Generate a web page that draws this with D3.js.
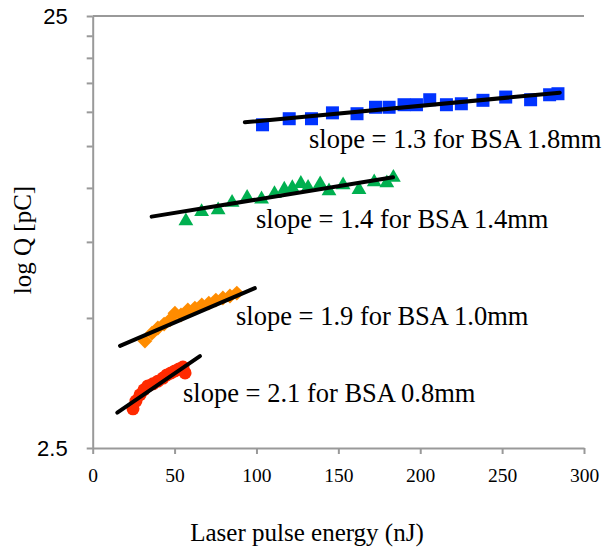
<!DOCTYPE html>
<html>
<head>
<meta charset="utf-8">
<script src="https://cdn.jsdelivr.net/npm/d3@7"></script>
<style>
  html, body { margin: 0; padding: 0; background: #fff; }
  svg { display: block; }
</style>
</head>
<body>
<svg id="chart" width="604" height="548"></svg>
<script>
// ---- data ----
const xTicks = [0, 50, 100, 150, 200, 250, 300];
const yTicks = [2.5, 5, 7.5, 10, 12.5, 15, 17.5, 20, 22.5, 25];
const yTickLabels = {"2.5": "2.5", "25": "25"};

const blueX = [103.7, 120.0, 133.6, 146.4, 161.4, 172.7, 181.0, 190.1, 197.7, 205.8, 216.0, 225.1, 238.3, 252.2, 267.4, 279.0, 284.1];
const blueY = [14.0, 14.46, 14.46, 14.92, 14.85, 15.37, 15.37, 15.58, 15.58, 16.0, 15.58, 15.66, 15.95, 16.23, 16.0, 16.43, 16.52];

const greenX = [56.9, 66.5, 76.6, 85.1, 94.3, 103.1, 111.0, 117.0, 121.9, 127.1, 131.5, 138.9, 144.3, 152.9, 162.6, 171.9, 179.6, 183.6];
const greenY = [8.38, 8.81, 8.89, 9.25, 9.50, 9.42, 9.69, 9.92, 10.0, 10.23, 10.02, 10.21, 9.84, 10.16, 9.91, 10.32, 10.26, 10.57];

const orangeX = [31.9, 36.2, 39.8, 43.6, 47.2, 50.2, 53.9, 58.1, 62.4, 66.6, 70.9, 75.2, 79.5, 83.8, 88.0];
const orangeY = [4.42, 4.61, 4.74, 4.84, 4.95, 5.13, 5.08, 5.22, 5.27, 5.36, 5.41, 5.50, 5.56, 5.62, 5.71];

const redX = [24.6, 26.4, 28.9, 31.3, 33.7, 36.8, 39.8, 42.9, 45.3, 47.8, 50.2, 52.7, 55.1, 56.4];
const redY = [3.08, 3.21, 3.32, 3.41, 3.48, 3.52, 3.57, 3.63, 3.69, 3.73, 3.77, 3.81, 3.85, 3.73];

const fitBlueX = [92.9, 285.2],  fitBlueY = [14.19, 16.61];
const fitGreenX = [36.0, 183.4], fitGreenY = [8.58, 10.58];
const fitOrangeX = [16.7, 99.0], fitOrangeY = [4.31, 5.86];
const fitRedX = [15.0, 65.5],    fitRedY = [3.02, 4.08];

const labels = ["slope = 1.3 for BSA 1.8mm", "slope = 1.4 for BSA 1.4mm", "slope = 1.9 for BSA 1.0mm", "slope = 2.1 for BSA 0.8mm"];
const xTitle = "Laser pulse energy (nJ)";
const yTitle = "log Q [pC]";

// ---- layout ----
const svg = d3.select("#chart");
const pLeft = 92.7, pRight = 584, pTop = 16, pBottom = 448;
const x = d3.scaleLinear().domain([0, 300]).range([pLeft, pRight]);
const y = d3.scaleLog().domain([2.5, 25]).range([pBottom, pTop]);
const axisColor = "#999999";

// top border
svg.append("line").attr("x1", pLeft).attr("x2", pRight).attr("y1", pTop).attr("y2", pTop)
  .attr("stroke", axisColor).attr("stroke-width", 2);

// x axis
const gx = svg.append("g").attr("transform", `translate(0,${pBottom})`)
  .call(d3.axisBottom(x).tickValues(xTicks).tickSize(6).tickPadding(14).tickSizeOuter(0));
gx.select(".domain").attr("stroke", axisColor).attr("stroke-width", 2);
gx.selectAll(".tick line").attr("stroke", axisColor).attr("stroke-width", 2);
gx.selectAll(".tick text").attr("font-family", "Liberation Serif, Times New Roman, serif")
  .attr("font-size", 19.5).attr("fill", "#000");

// y axis
const gy = svg.append("g").attr("transform", `translate(${pLeft},0)`)
  .call(d3.axisLeft(y).tickValues(yTicks).tickSize(6).tickPadding(19).tickSizeOuter(0)
    .tickFormat(d => yTickLabels[String(d)] || ""));
gy.select(".domain").attr("stroke", axisColor).attr("stroke-width", 2);
gy.selectAll(".tick line").attr("stroke", axisColor).attr("stroke-width", 2);
gy.selectAll(".tick text").attr("font-family", "Liberation Sans, Arial, sans-serif")
  .attr("font-size", 22).attr("fill", "#000");

// titles
svg.append("text").attr("x", 307).attr("y", 541).attr("text-anchor", "middle")
  .attr("font-family", "Liberation Serif, Times New Roman, serif").attr("font-size", 25)
  .text(xTitle);
svg.append("text").attr("transform", "translate(31,240) rotate(-90)").attr("text-anchor", "middle")
  .attr("font-family", "Liberation Serif, Times New Roman, serif").attr("font-size", 25)
  .text(yTitle);

// markers
const zip = (xs, ys) => xs.map((v, i) => [v, ys[i]]);

svg.append("g").selectAll("rect").data(zip(blueX, blueY)).join("rect")
  .attr("x", d => x(d[0]) - 6.5).attr("y", d => y(d[1]) - 6.5)
  .attr("width", 13).attr("height", 13).attr("fill", "#0033ff");

const tri = d3.symbol().type(d3.symbolTriangle).size(95);
svg.append("g").selectAll("path").data(zip(greenX, greenY)).join("path")
  .attr("d", tri).attr("transform", d => `translate(${x(d[0])},${y(d[1])})`)
  .attr("fill", "#00b050");

const dia = d3.symbol().type(d3.symbolSquare).size(110);
svg.append("g").selectAll("path").data(zip(orangeX, orangeY)).join("path")
  .attr("d", dia).attr("transform", d => `translate(${x(d[0])},${y(d[1])}) rotate(45)`)
  .attr("fill", "#ff8c00");

svg.append("g").selectAll("circle").data(zip(redX, redY)).join("circle")
  .attr("cx", d => x(d[0])).attr("cy", d => y(d[1])).attr("r", 6.5)
  .attr("fill", "#ff2a00");

// fit lines
const line = d3.line().x(d => x(d[0])).y(d => y(d[1]));
[[fitBlueX, fitBlueY], [fitGreenX, fitGreenY], [fitOrangeX, fitOrangeY], [fitRedX, fitRedY]].forEach(([fx, fy]) => {
  svg.append("path").datum(zip(fx, fy)).attr("d", line)
    .attr("stroke", "#000").attr("stroke-width", 4).attr("fill", "none").attr("stroke-linecap", "round");
});

// slope labels
const labelPos = [[309, 148], [256, 228], [236, 325], [183, 402]];
labels.forEach((t, i) => {
  svg.append("text").attr("x", labelPos[i][0]).attr("y", labelPos[i][1])
    .attr("font-family", "Liberation Serif, Times New Roman, serif").attr("font-size", 26.5)
    .text(t);
});
</script>
</body>
</html>
